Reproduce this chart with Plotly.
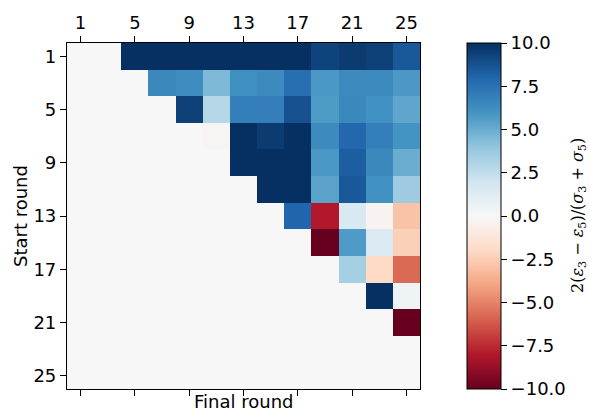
import plotly.graph_objects as go

# Rounds (each cell = 2 rounds)
final_rounds = [1, 3, 5, 7, 9, 11, 13, 15, 17, 19, 21, 23, 25]
start_rounds = [1, 3, 5, 7, 9, 11, 13, 15, 17, 19, 21, 23, 25]
tick_rounds = [1, 5, 9, 13, 17, 21, 25]
cbar_ticks = [-10, -7.5, -5, -2.5, 0, 2.5, 5, 7.5, 10]

# 2(eps3 - eps5)/(sigma3 + sigma5); rows = start round, cols = final round
row_01 = [0, 0, 10, 10, 10, 10, 10, 10, 10, 9.3, 9.6, 9.4, 8.5]
row_03 = [0, 0, 0, 6.5, 6.3, 4.5, 6.2, 6.4, 7.6, 5.8, 6.4, 6.4, 5.8]
row_05 = [0, 0, 0, 0, 9.4, 2.9, 6.9, 6.9, 8.8, 5.7, 6.5, 6.1, 5.3]
row_07 = [0, 0, 0, 0, 0, -0.15, 10, 9.6, 10, 6.4, 7.9, 6.9, 6.0]
row_09 = [0, 0, 0, 0, 0, 0, 10, 10, 10, 5.8, 8.3, 6.5, 5.0]
row_11 = [0, 0, 0, 0, 0, 0, 0, 10, 10, 5.4, 8.5, 6.1, 3.6]
row_13 = [0, 0, 0, 0, 0, 0, 0, 0, 8.0, -8.0, 1.6, -0.3, -2.9]
row_15 = [0, 0, 0, 0, 0, 0, 0, 0, 0, -10, 5.7, 1.5, -2.4]
row_17 = [0, 0, 0, 0, 0, 0, 0, 0, 0, 0, 3.4, -2.0, -5.7]
row_19 = [0, 0, 0, 0, 0, 0, 0, 0, 0, 0, 0, 10, 0.5]
row_21 = [0, 0, 0, 0, 0, 0, 0, 0, 0, 0, 0, 0, -10]
row_23 = [0, 0, 0, 0, 0, 0, 0, 0, 0, 0, 0, 0, 0]
row_25 = [0, 0, 0, 0, 0, 0, 0, 0, 0, 0, 0, 0, 0]

z = [row_01, row_03, row_05, row_07, row_09, row_11, row_13,
     row_15, row_17, row_19, row_21, row_23, row_25]

rdbu_colors = ["#67001f", "#b2182b", "#d6604d", "#f4a582", "#fddbc7", "#f7f7f7",
               "#d1e5f0", "#92c5de", "#4393c3", "#2166ac", "#053061"]
colorscale = [[i / (len(rdbu_colors) - 1), c] for i, c in enumerate(rdbu_colors)]

FONT = "DejaVu Sans"
FS = 18

fig = go.Figure(go.Heatmap(
    x=final_rounds, y=start_rounds, z=z,
    zmin=-10, zmax=10, colorscale=colorscale,
    colorbar=dict(
        x=(467 - 67) / 353, xanchor="left", xpad=0,
        y=0.5, yanchor="middle", ypad=0, len=1, lenmode="fraction",
        thickness=34, outlinewidth=1, outlinecolor="black",
        ticks="outside", ticklen=6, tickwidth=1.3, tickcolor="black",
        tickvals=cbar_ticks, tickformat=".1f",
        tickfont=dict(family=FONT, size=FS, color="black"),
    ),
    hoverinfo="skip",
))

axis_common = dict(
    tickvals=tick_rounds, ticks="outside", ticklen=6, tickwidth=1.3, tickcolor="black",
    showline=True, linecolor="black", linewidth=1.2, showgrid=False, zeroline=False,
    tickfont=dict(family=FONT, size=FS, color="black"),
)

fig.update_layout(
    width=590, height=414,
    margin=dict(l=67, r=170, t=35, b=25),
    paper_bgcolor="white", plot_bgcolor="#f7f7f7",
    xaxis=dict(range=[0, 26], side="top", mirror="ticks", **axis_common),
    yaxis=dict(range=[26, 0], mirror=True, **axis_common),
    font=dict(family=FONT, size=FS, color="black"),
    annotations=[
        dict(text="Final round", x=0.5, y=-0.037, xref="paper", yref="paper",
             xanchor="center", yanchor="middle", showarrow=False,
             font=dict(family=FONT, size=FS, color="black")),
        dict(text="Start round", x=(20 - 67) / 353, y=0.5, xref="paper", yref="paper",
             xanchor="center", yanchor="middle", textangle=-90, showarrow=False,
             font=dict(family=FONT, size=FS, color="black")),
        dict(text="2(<i>ε</i><sub>3</sub> − <i>ε</i><sub>5</sub>)/(<i>σ</i><sub>3</sub> + <i>σ</i><sub>5</sub>)",
             x=(578 - 67) / 353, y=0.5, xref="paper", yref="paper",
             xanchor="center", yanchor="middle", textangle=-90, showarrow=False,
             font=dict(family="DejaVu Serif", size=16, color="black")),
    ],
)

fig.write_html("out.html")
